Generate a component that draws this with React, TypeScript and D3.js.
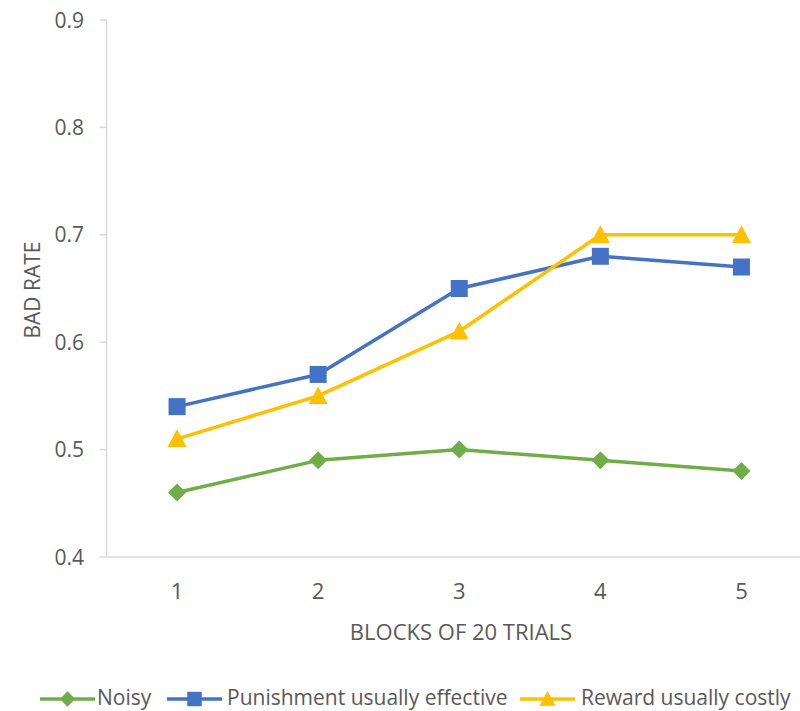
import React from "react";
import * as d3 from "d3";

const categories = ["1", "2", "3", "4", "5"];
const seriesNames = ["Noisy", "Punishment usually effective", "Reward usually costly"];
const noisy = [0.46, 0.49, 0.5, 0.49, 0.48];
const punishment = [0.54, 0.57, 0.65, 0.68, 0.67];
const reward = [0.51, 0.55, 0.61, 0.7, 0.7];
const yTicks = [0.4, 0.5, 0.6, 0.7, 0.8, 0.9];

const colors = ["#70AD47", "#4472C4", "#FFC000"];
const shapes = ["diamond", "square", "triangle"];
const FONT = "'Open Sans', sans-serif";
const TEXT = "#595959";

function Marker({ shape, x, y, color, s = 1 }: { shape: string; x: number; y: number; color: string; s?: number }) {
  if (shape === "square") {
    const h = 8.5 * s;
    return <rect x={x - h} y={y - h} width={2 * h} height={2 * h} fill={color} />;
  }
  if (shape === "diamond") {
    const h = 9 * s;
    return <path d={`M${x},${y - h}L${x + h},${y}L${x},${y + h}L${x - h},${y}Z`} fill={color} />;
  }
  const h = 9.5 * s;
  return <path d={`M${x},${y - h}L${x + h},${y + h * 0.85}L${x - h},${y + h * 0.85}Z`} fill={color} />;
}

export default function App() {
  const W = 800, H = 711;
  const left = 106.5, right = 812, top = 20, bottom = 557;
  const x = d3.scaleBand().domain(categories).range([left, right]);
  const y = d3.scaleLinear().domain([0.4, 0.9]).range([bottom, top]);
  const data = [noisy, punishment, reward];
  const line = d3.line<number>().x((_, i) => (x(categories[i]) as number) + x.bandwidth() / 2).y((d) => y(d));

  const legendItems = [
    { lx: 40, tx: 97 },
    { lx: 167, tx: 227 },
    { lx: 520, tx: 581 },
  ];
  const ly = 699;

  return (
    <svg width={W} height={H} style={{ position: "absolute", left: 0, top: 0, background: "#fff" }} fontFamily={FONT}>
      <rect width={W} height={H} fill="#fff" />
      <line x1={left} x2={left} y1={top} y2={bottom} stroke="#D9D9D9" strokeWidth={1.5} />
      <line x1={left} x2={right} y1={bottom} y2={bottom} stroke="#D9D9D9" strokeWidth={1.5} />
      {yTicks.map((t) => (
        <g key={t}>
          <line x1={left - 7} x2={left} y1={y(t)} y2={y(t)} stroke="#D9D9D9" strokeWidth={1.5} />
          <text x={84} y={y(t)} dy="0.36em" textAnchor="end" fontSize={21} fill={TEXT}>
            {t.toFixed(1)}
          </text>
        </g>
      ))}
      {categories.map((c) => (
        <text key={c} x={(x(c) as number) + x.bandwidth() / 2} y={599} textAnchor="middle" fontSize={22} fill={TEXT}>
          {c}
        </text>
      ))}
      <text transform={`translate(40,290) rotate(-90)`} textAnchor="middle" fontSize={21} fill={TEXT}>
        BAD RATE
      </text>
      <text x={461} y={640} textAnchor="middle" fontSize={22} fill={TEXT}>
        BLOCKS OF 20 TRIALS
      </text>
      {data.map((vals, si) => (
        <g key={si}>
          <path d={line(vals) || ""} fill="none" stroke={colors[si]} strokeWidth={3.5} strokeLinejoin="round" />
          {vals.map((v, i) => (
            <Marker key={i} shape={shapes[si]} x={(x(categories[i]) as number) + x.bandwidth() / 2} y={y(v)} color={colors[si]} />
          ))}
        </g>
      ))}
      {seriesNames.map((n, i) => (
        <g key={n}>
          <line x1={legendItems[i].lx} x2={legendItems[i].lx + 55} y1={ly} y2={ly} stroke={colors[i]} strokeWidth={3.5} />
          <Marker shape={shapes[i]} x={legendItems[i].lx + 27.5} y={ly} color={colors[i]} s={0.85} />
          <text x={legendItems[i].tx} y={705} fontSize={21} fill={TEXT}>
            {n}
          </text>
        </g>
      ))}
    </svg>
  );
}
